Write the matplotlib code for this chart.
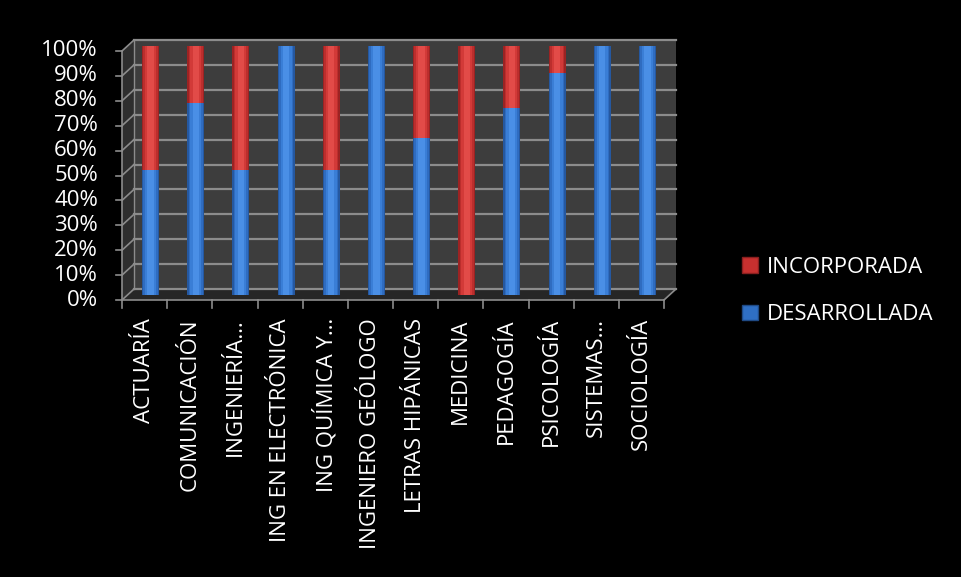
import matplotlib.pyplot as plt
import matplotlib.transforms as mtransforms
from matplotlib.patches import Polygon, Patch
import numpy as np

carreras = ['ACTUARÍA', 'COMUNICACIÓN', 'INGENIERÍA…', 'ING EN ELECTRÓNICA',
            'ING QUÍMICA Y…', 'INGENIERO GEÓLOGO', 'LETRAS HIPÁNICAS',
            'MEDICINA', 'PEDAGOGÍA', 'PSICOLOGÍA', 'SISTEMAS…', 'SOCIOLOGÍA']
desarrollada = [50, 77, 50, 100, 50, 100, 63, 0, 75, 89, 100, 100]
incorporada = [50, 23, 50, 0, 50, 0, 37, 100, 25, 11, 0, 0]
yticks = [0, 10, 20, 30, 40, 50, 60, 70, 80, 90, 100]

W, H = 961, 577
plt.rcParams['font.family'] = ['Open Sans', 'DejaVu Sans']

fig = plt.figure(figsize=(W / 100, H / 100), dpi=100, facecolor='black')

# frame layer in pixel coords (y downward)
fr = fig.add_axes([0, 0, 1, 1])
fr.set_xlim(0, W)
fr.set_ylim(H, 0)
fr.axis('off')
fr.set_facecolor('black')

x0, x1 = 122, 664      # front axis
yb, yt = 300, 51       # front bottom / top
dx, dy = 12, -11       # depth offset
grid_c = '#8c8c8c'

# back wall, left wall, floor
fr.add_patch(Polygon([(x0 + dx, yb + dy), (x1 + dx, yb + dy), (x1 + dx, yt + dy), (x0 + dx, yt + dy)],
                     closed=True, fc='#3d3d3d', ec='none', zorder=1))
fr.add_patch(Polygon([(x0, yb), (x0 + dx, yb + dy), (x0 + dx, yt + dy), (x0, yt)],
                     closed=True, fc='#2e2e2e', ec='none', zorder=1))
fr.add_patch(Polygon([(x0, yb), (x1, yb), (x1 + dx, yb + dy), (x0 + dx, yb + dy)],
                     closed=True, fc='#262626', ec='none', zorder=1))

for v in yticks:
    y = yb - (yb - yt) * v / 100
    fr.plot([x0 + dx, x1 + dx], [y + dy, y + dy], color=grid_c, lw=1.6, zorder=2)
    fr.plot([x0, x0 + dx], [y, y + dy], color=grid_c, lw=1.2, zorder=2)
    fr.plot([x0 - 6, x0], [y, y], color=grid_c, lw=1.2, zorder=2)
    fr.text(x0 - 24, y, f'{v}%', color='white', fontsize=16, ha='right', va='center')

fr.plot([x0, x0], [yb, yt], color=grid_c, lw=1.2, zorder=2)
fr.plot([x0, x1], [yb, yb], color=grid_c, lw=1.2, zorder=2)
fr.plot([x1, x1 + dx], [yb, yb + dy], color=grid_c, lw=1.2, zorder=2)
fr.plot([x0 + dx, x0 + dx], [yb + dy, yt + dy], color=grid_c, lw=1.0, zorder=2)
step = (x1 - x0) / len(carreras)
for k in range(len(carreras) + 1):
    fr.plot([x0 + k * step] * 2, [yb, yb + 8], color=grid_c, lw=1.2, zorder=2)

# bars at mid depth
bx0, bx1 = x0 + dx / 2, x1 + dx / 2
by0, by1 = yb + dy / 2, yt + dy / 2
ax = fig.add_axes([bx0 / W, 1 - by0 / H, (bx1 - bx0) / W, (by0 - by1) / H])
ax.set_facecolor('none')
ax.set_xlim(-0.5, len(carreras) - 0.5)
ax.set_ylim(0, 100)
for s in ax.spines.values():
    s.set_visible(False)
ax.set_yticks([])

x = np.arange(len(carreras))
blues = ['#2558a0', '#2f6cc0', '#3a7ed6', '#4a8fe6']
reds = ['#9c2323', '#bb2e2d', '#d23a38', '#e24b48']
widths = [0.38, 0.32, 0.24, 0.14]
# layered bars to fake the cylinder shading
for k, w in enumerate(widths):
    ax.bar(x, desarrollada, width=w, color=blues[k], zorder=3 + k)
    ax.bar(x, incorporada, width=w, bottom=desarrollada, color=reds[k], zorder=3 + k)

ax.set_xticks(x)
ax.set_xticklabels(carreras, rotation=90, color='white', fontsize=16, va='top', ha='center')
ax.tick_params(axis='x', length=0, pad=17)
off = mtransforms.ScaledTranslation(-dx / 2 / 100, 0, fig.dpi_scale_trans)
for lab in ax.get_xticklabels():
    lab.set_transform(lab.get_transform() + off)

handles = [Patch(facecolor='#c7302f', edgecolor='#8a1f1f'),
           Patch(facecolor='#2f6fc4', edgecolor='#1f4a85')]
leg = fig.legend(handles, ['INCORPORADA', 'DESARROLLADA'], loc='center left',
                 bbox_to_anchor=(722 / W, 1 - 291 / H), frameon=False, fontsize=16,
                 handlelength=0.7, handleheight=0.7, handletextpad=0.4, labelspacing=1.2)
for t in leg.get_texts():
    t.set_color('white')

fig.savefig('out.png', dpi=100, facecolor='black')
